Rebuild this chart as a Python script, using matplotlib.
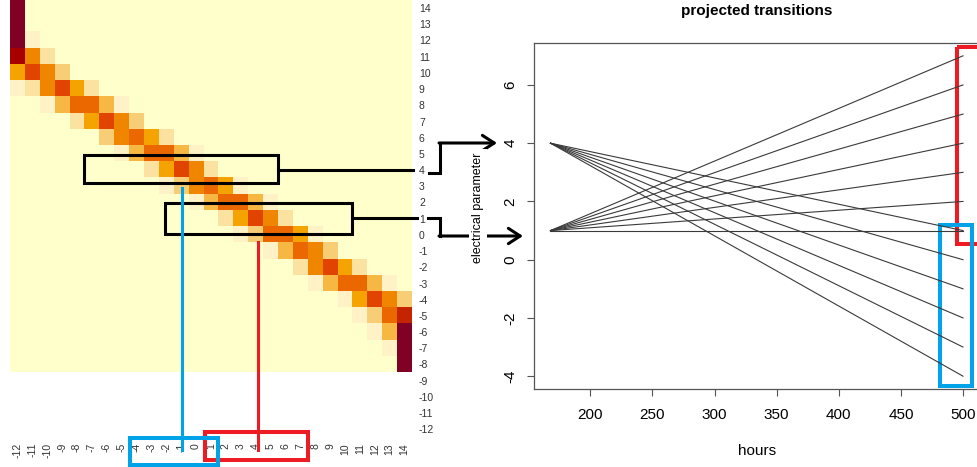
import matplotlib
matplotlib.use("Agg")
import matplotlib.pyplot as plt
import numpy as np
from matplotlib.colors import ListedColormap, BoundaryNorm
from matplotlib.patches import Rectangle

plt.rcParams["font.family"] = ["Liberation Sans", "DejaVu Sans"]
plt.rcParams["axes.unicode_minus"] = False

# --- transition matrix -------------------------------------------------------
from_states = list(range(14, -13, -1))      # row labels, top to bottom
to_states = list(range(-12, 15))            # column labels, left to right

# shade level of each drawn row: (first non-background column, levels)
band_rows = [
    (0, [11]),
    (0, [11]),
    (0, [11, 1]),
    (0, [10, 6, 2]),
    (0, [5, 8, 6, 3]),
    (0, [1, 2, 6, 8, 5, 2]),
    (2, [1, 4, 7, 7, 4, 1]),
    (4, [2, 5, 8, 6, 3]),
    (6, [3, 6, 7, 5, 2]),
    (7, [1, 4, 7, 7, 4, 1]),
    (9, [2, 5, 8, 6, 2]),
    (10, [1, 3, 6, 7, 5, 1]),
    (12, [1, 4, 7, 7, 4, 1]),
    (14, [2, 5, 8, 6, 2]),
    (15, [1, 3, 7, 7, 5, 1]),
    (17, [1, 4, 7, 6, 3]),
    (19, [2, 6, 8, 5, 2]),
    (20, [1, 4, 7, 7, 4, 1]),
    (22, [1, 5, 8, 6, 3]),
    (23, [1, 3, 7, 9]),
    (24, [1, 4, 11]),
    (25, [1, 11]),
    (26, [11]),
]

level_colors = ["#ffffcc", "#fff2c6", "#fbe2a0", "#f7cd75", "#f6b843", "#f4a300",
                "#f08600", "#eb6700", "#e04400", "#c42400", "#a80000", "#800026"]

# --- projected transitions ---------------------------------------------------
start_hour = 168
end_hour = 500
high_start = 4
high_ends = [1, 0, -1, -2, -3, -4]
low_start = 1
low_ends = [1, 2, 3, 4, 5, 6, 7]

W, H = 978, 467


def fig_box(x0, y0, x1, y1):
    """Pixel box (top-left origin) -> figure fraction rect."""
    return [x0 / W, 1 - y1 / H, (x1 - x0) / W, (y1 - y0) / H]


fig = plt.figure(figsize=(W / 100, H / 100), dpi=100)

# heatmap
mat = np.full((len(from_states), len(to_states)), np.nan)
for j, (c0, levels) in enumerate(band_rows):
    mat[j, :] = 0
    mat[j, c0:c0 + len(levels)] = levels

cmap = ListedColormap(level_colors)
cmap.set_bad((1, 1, 1, 0))
norm = BoundaryNorm(np.arange(-0.5, len(level_colors)), len(level_colors))

ax_hm = fig.add_axes(fig_box(10, 0, 412, 437.4), zorder=0)
ax_hm.imshow(mat, cmap=cmap, norm=norm, aspect="auto", interpolation="nearest",
             extent=(to_states[0] - 0.5, to_states[-1] + 0.5,
                     from_states[-1] - 0.5, from_states[0] + 0.5))
ax_hm.set_xticks(to_states)
ax_hm.set_xticklabels([str(v) for v in to_states], rotation=90)
ax_hm.set_yticks(from_states)
ax_hm.yaxis.tick_right()
ax_hm.tick_params(length=0, labelsize=7.5, colors="#333333")
ax_hm.tick_params(axis="x", pad=4)
ax_hm.tick_params(axis="y", pad=5)
for s in ax_hm.spines.values():
    s.set_visible(False)

# line plot
ax = fig.add_axes(fig_box(534, 43, 979.5, 389), zorder=2)
ax.patch.set_visible(False)
for e in high_ends:
    ax.plot([start_hour, end_hour], [high_start, e], color="#3a3a3a", lw=0.8)
for e in low_ends:
    ax.plot([start_hour, end_hour], [low_start, e], color="#3a3a3a", lw=0.8)
ax.margins(x=0.04, y=0.04)
ax.set_xticks(range(200, 501, 50))
ax.set_yticks(range(-4, 7, 2))
ax.tick_params(direction="out", length=5, width=0.8, color="#555555", labelsize=11)
ax.tick_params(axis="x", pad=9)
ax.tick_params(axis="y", pad=7)
for lbl in ax.get_yticklabels():
    lbl.set_rotation(90)
    lbl.set_va("center")
for s in ax.spines.values():
    s.set_color("#555555")
    s.set_linewidth(0.9)
ax.set_title("projected transitions", fontsize=11, fontweight="bold", pad=20)
ax.set_xlabel("hours", fontsize=11)
ax.xaxis.set_label_coords(0.5, -0.16)
ax.set_ylabel("electrical parameter", fontsize=9,
              bbox=dict(fc="white", ec="none", pad=2))
ax.yaxis.set_label_coords(-0.112, 0.525)

# annotation overlay, pixel coordinates
ov = fig.add_axes([0, 0, 1, 1], zorder=1)
ov.set_xlim(0, W)
ov.set_ylim(H, 0)
ov.axis("off")
ov.patch.set_visible(False)

BLACK, BLUE, RED = "black", "#00a2e8", "#ed1c24"
thin, thick = 2.2, 2.9
arrow = dict(arrowstyle="->,head_length=0.85,head_width=0.55", lw=thin,
             color=BLACK, shrinkA=0, shrinkB=0)

ov.add_patch(Rectangle((84, 155), 194, 28, fill=False, ec=BLACK, lw=thin))
ov.plot([278, 413], [170, 170], color=BLACK, lw=thin)
ov.plot([429, 440, 440], [173, 173, 143], color=BLACK, lw=thin,
        solid_joinstyle="miter")
ov.annotate("", xy=(497, 143), xytext=(439, 143), arrowprops=arrow)

ov.add_patch(Rectangle((164.5, 202.5), 187, 31, fill=False, ec=BLACK, lw=thin))
ov.plot([351.5, 417], [218, 218], color=BLACK, lw=thin)
ov.plot([428, 440, 440], [218, 218, 236], color=BLACK, lw=thin,
        solid_joinstyle="miter")
ov.annotate("", xy=(523, 236), xytext=(439, 236), arrowprops=arrow)

ov.plot([181.5, 181.5], [188, 450], color=BLUE, lw=thin)
ov.plot([258, 258], [242, 450], color=RED, lw=thin)
ov.add_patch(Rectangle((205, 432), 103, 28, fill=False, ec=RED, lw=thick))
ov.add_patch(Rectangle((130, 438), 88, 27, fill=False, ec=BLUE, lw=thick))

ov.add_patch(Rectangle((957, 47), 40, 196.7, fill=False, ec=RED, lw=thick))
ov.add_patch(Rectangle((940, 224.7), 32, 161, fill=False, ec=BLUE, lw=thick))

fig.savefig("out.png", dpi=100)
